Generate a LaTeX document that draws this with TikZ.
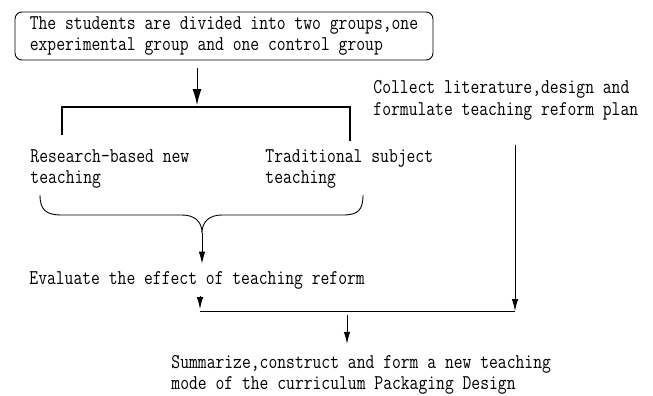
\documentclass[tikz,border=0pt]{standalone}
\usepackage{fontspec}
\newfontfamily\reffont{Latin Modern Mono}[FakeStretch=0.816]
\usetikzlibrary{arrows.meta}

\begin{document}
\begin{tikzpicture}[x=1pt,y=-1pt,line width=0.9pt,
	txt/.style={anchor=west,inner sep=0pt,align=left,font=\reffont\fontsize{21}{21.5}\selectfont},
	>={Latex[length=12pt,width=6.5pt]}]
	\useasboundingbox (0,0) rectangle (653,396);
	\node (grp) [txt,anchor=center,draw,rounded corners=7pt,minimum width=418pt,minimum height=48pt,inner xsep=11pt] at (224,36) {The students are divided into two groups,one\\experimental group and one control group};
	\node (res) [txt] at (30,169) {Research-based new\\teaching};
	\node (trad) [txt] at (265,169) {Traditional subject\\teaching};
	\node (coll) [txt] at (373,100.5) {Collect literature,design and\\formulate teaching reform plan};
	\node (eval) [txt] at (29,280) {Evaluate the effect of teaching reform};
	\node (summ) [txt] at (171,375) {Summarize,construct and form a new teaching\\mode of the curriculum Packaging Design};
	%
	\coordinate (bt) at (197,107);
	\coordinate (bl) at (62,135);
	\coordinate (br) at (350,141);
	\coordinate (cusp) at (202,233);
	\coordinate (jl) at (200,311);
	\coordinate (jr) at (515,311);
	\coordinate (jm) at (347,311);
	%
	\draw [-{Latex[length=16pt,width=9pt]},shorten <=8pt,shorten >=2pt] (bt |- grp.south) -- (bt);
	\draw [line width=1.5pt] (bl) -- (bl |- bt) -- (br |- bt) -- (br);
	\draw (40,195) .. controls (40,210) and (46,215) .. (62,215) -- (182,215) .. controls (195,215) and (202,222) .. (cusp) .. controls (202,222) and (209,215) .. (222,215) -- (343,215) .. controls (358,215) and (363,210) .. (363,195);
	\draw [->,shorten >=7pt] (cusp) -- (cusp |- eval.north);
	\draw [->,shorten <=7pt,shorten >=2pt] (jl |- eval.south) -- (jl);
	\draw (jl) -- (jr);
	\draw [->,shorten <=24pt] (jr |- coll.south) -- (jr);
	\draw [->,shorten <=4pt,shorten >=11pt] (jm) -- (jm |- summ.north);
\end{tikzpicture}
\end{document}
